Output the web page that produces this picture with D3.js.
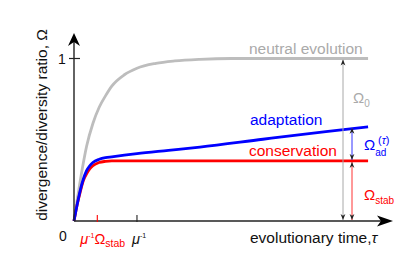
<!DOCTYPE html>
<html>
<head>
<meta charset="utf-8">
<script src="https://cdn.jsdelivr.net/npm/d3@7"></script>
<style>
  body { margin: 0; background: #fff; }
  svg text { font-family: "Liberation Sans", Arial, sans-serif; }
</style>
</head>
<body>
<div id="chart"></div>
<script>
//Data (time in units of 1/mu, ratio Omega)
let timeNeutral = [0, 0.05, 0.1, 0.2, 0.3, 0.4, 0.5, 0.6, 0.8, 1.0, 1.3, 1.6, 2.0, 2.5, 3.0, 4.67];
let omegaNeutral = [0, 0.13, 0.25, 0.46, 0.6, 0.7, 0.77, 0.83, 0.9, 0.94, 0.97, 0.985, 0.995, 1.0, 1.0, 1.0];

let timeAdapt = [0, 0.05, 0.1, 0.15, 0.2, 0.25, 0.3, 0.4, 0.5, 0.6, 0.8, 1.0, 1.5, 2.0, 3.0, 4.0, 4.67];
let omegaAdapt = [0, 0.1, 0.19, 0.26, 0.31, 0.34, 0.36, 0.38, 0.39, 0.395, 0.405, 0.415, 0.435, 0.455, 0.503, 0.55, 0.58];

let timeCons = [0, 0.05, 0.1, 0.15, 0.2, 0.25, 0.3, 0.4, 0.5, 0.6, 1.0, 4.67];
let omegaCons = [0, 0.1, 0.18, 0.25, 0.29, 0.32, 0.34, 0.36, 0.367, 0.37, 0.37, 0.37];

let omegaStab = 0.37;
let omegaEnd = 0.58;
let xTickValues = [omegaStab, 1];
let yTickValues = [0, 1];

//Canvas
let svgWidth = 415;
let svgHeight = 265;

let svg = d3.select("#chart")
  .append("svg")
  .attr("width", svgWidth)
  .attr("height", svgHeight);

//Scales
let xScale = d3.scaleLinear().domain([0, 5.05]).range([74, 392]);
let yScale = d3.scaleLinear().domain([0, 1]).range([221, 58.5]);

//Markers
let defs = svg.append("defs");
defs.append("marker")
  .attr("id", "tip")
  .attr("viewBox", "0 0 10 10")
  .attr("refX", 10).attr("refY", 5)
  .attr("markerWidth", 6).attr("markerHeight", 6)
  .attr("markerUnits", "userSpaceOnUse")
  .attr("orient", "auto-start-reverse")
  .append("path")
  .attr("d", "M0,1 L10,5 L0,9 L3,5 Z")
  .attr("fill", "#222");

//Curves
let line = d3.line()
  .x(d => xScale(d[0]))
  .y(d => yScale(d[1]))
  .curve(d3.curveMonotoneX);

let curves = [
  { t: timeNeutral, o: omegaNeutral, color: "#bdbdbd" },
  { t: timeCons, o: omegaCons, color: "#ff0000" },
  { t: timeAdapt, o: omegaAdapt, color: "#0000ff" }
];

svg.selectAll(".curve")
  .data(curves)
  .enter()
  .append("path")
  .attr("class", "curve")
  .attr("d", c => line(c.t.map((t, i) => [t, c.o[i]])))
  .attr("fill", "none")
  .attr("stroke", c => c.color)
  .attr("stroke-width", 2.8);

//Axes with arrow heads
let x0 = xScale(0), y0 = yScale(0);
svg.append("line")
  .attr("x1", x0).attr("y1", y0)
  .attr("x2", x0).attr("y2", 40)
  .attr("stroke", "#222").attr("stroke-width", 1.4);
svg.append("path")
  .attr("d", `M${x0},33 L${x0 + 6},46 L${x0},42 L${x0 - 6},46 Z`)
  .attr("fill", "#000");

svg.append("line")
  .attr("x1", x0).attr("y1", y0)
  .attr("x2", 386).attr("y2", y0)
  .attr("stroke", "#222").attr("stroke-width", 1.4);
svg.append("path")
  .attr("d", `M393,${y0} L377,${y0 - 5.5} L381,${y0} L377,${y0 + 5.5} Z`)
  .attr("fill", "#000");

//Y tick "1"
svg.append("line")
  .attr("x1", x0 - 5).attr("x2", x0 + 6)
  .attr("y1", yScale(1)).attr("y2", yScale(1))
  .attr("stroke", "#222").attr("stroke-width", 1.2);

svg.selectAll(".ylab")
  .data(yTickValues)
  .enter()
  .append("text")
  .attr("x", d => d === 0 ? x0 - 11 : x0 - 12)
  .attr("y", d => d === 0 ? y0 + 20 : yScale(d) + 5)
  .attr("text-anchor", "middle")
  .style("font-size", "14px")
  .attr("fill", "#111")
  .text(d => d);

//X ticks
svg.selectAll(".xtick")
  .data(xTickValues)
  .enter()
  .append("line")
  .attr("x1", d => xScale(d)).attr("x2", d => xScale(d))
  .attr("y1", y0 - 6).attr("y2", y0 + 1)
  .attr("stroke", (d, i) => i === 0 ? "#ff0000" : "#222")
  .attr("stroke-width", 1.1);

//X tick labels
let lab1 = svg.append("text")
  .attr("x", xScale(omegaStab) - 17).attr("y", 244)
  .attr("fill", "#ff0000")
  .style("font-size", "14.5px");
lab1.append("tspan").style("font-style", "italic").text("μ");
lab1.append("tspan").attr("dy", -6).style("font-size", "7px").text("-1");
lab1.append("tspan").attr("dy", 6).text("Ω");
lab1.append("tspan").attr("dy", 3).style("font-size", "10.5px").text("stab");

let lab2 = svg.append("text")
  .attr("x", xScale(1) - 5).attr("y", 244)
  .attr("fill", "#111")
  .style("font-size", "14.5px");
lab2.append("tspan").style("font-style", "italic").text("μ");
lab2.append("tspan").attr("dy", -6).style("font-size", "7px").text("-1");

//Axis titles
let xt = svg.append("text")
  .attr("x", 250).attr("y", 243)
  .attr("fill", "#111")
  .style("font-size", "15.5px")
  .text("evolutionary time,");
xt.append("tspan").style("font-style", "italic").text("τ");

svg.append("text")
  .attr("transform", "translate(47,125) rotate(-90)")
  .attr("text-anchor", "middle")
  .attr("fill", "#111")
  .style("font-size", "15.5px")
  .text("divergence/diversity ratio, Ω");

//Curve labels
svg.append("text").attr("x", 249).attr("y", 54)
  .attr("fill", "#aaaaaa").style("font-size", "15.5px").text("neutral evolution");
svg.append("text").attr("x", 250).attr("y", 125)
  .attr("fill", "#0000ff").style("font-size", "15.5px").text("adaptation");
svg.append("text").attr("x", 249).attr("y", 156)
  .attr("fill", "#ff0000").style("font-size", "15.5px").text("conservation");

//Double arrows
let arrows = [
  { x: 343, from: 0, to: 1, color: "#a8a8a8" },
  { x: 352, from: 0, to: omegaStab, color: "#ff3333" },
  { x: 352, from: omegaStab, to: omegaEnd, color: "#3333ff" }
];
svg.selectAll(".darrow")
  .data(arrows)
  .enter()
  .append("line")
  .attr("x1", d => d.x).attr("x2", d => d.x)
  .attr("y1", d => yScale(d.from) - 1).attr("y2", d => yScale(d.to) + 1)
  .attr("stroke", d => d.color)
  .attr("stroke-width", 1)
  .attr("marker-start", "url(#tip)")
  .attr("marker-end", "url(#tip)");

//Omega labels
let o0 = svg.append("text").attr("x", 353).attr("y", 103)
  .attr("fill", "#aaaaaa").style("font-size", "15px");
o0.append("tspan").text("Ω");
o0.append("tspan").attr("dy", 4).style("font-size", "10px").text("0");

let oad = svg.append("text").attr("x", 364).attr("y", 150)
  .attr("fill", "#0000ff").style("font-size", "15px");
oad.append("tspan").text("Ω");
oad.append("tspan").attr("dy", 6).style("font-size", "10px").text("ad");
oad.append("tspan").attr("x", 378).attr("dy", -12).style("font-size", "11px").text("(");
oad.append("tspan").style("font-size", "11px").style("font-style", "italic").text("τ");
oad.append("tspan").style("font-size", "11px").text(")");

let ost = svg.append("text").attr("x", 364).attr("y", 200)
  .attr("fill", "#ff0000").style("font-size", "15px");
ost.append("tspan").text("Ω");
ost.append("tspan").attr("dy", 4).style("font-size", "10px").text("stab");
</script>
</body>
</html>
